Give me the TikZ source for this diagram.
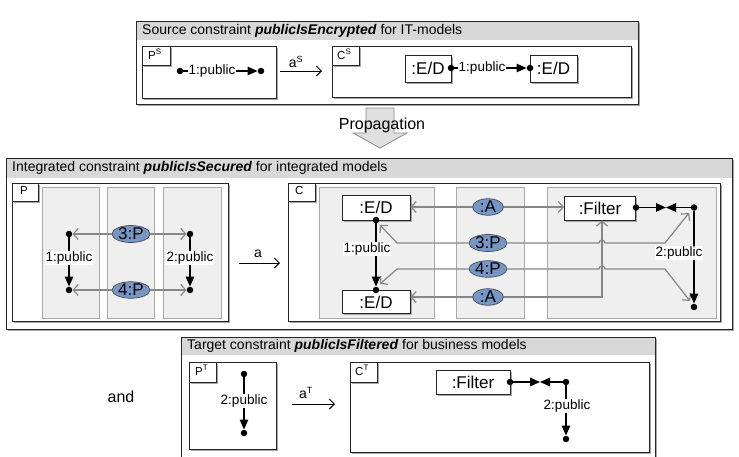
\documentclass[tikz,border=0pt]{standalone}
\usepackage{fontspec}
\setmainfont{Liberation Sans}
\usetikzlibrary{arrows.meta,shapes.geometric,shadows}

\definecolor{hdr}{RGB}{216,216,216}
\definecolor{lanef}{RGB}{239,239,239}
\definecolor{laned}{RGB}{168,168,168}
\definecolor{mapc}{RGB}{135,135,135}
\definecolor{objc}{RGB}{118,150,198}

\newcommand{\fs}[1]{\fontsize{#1}{#1}\selectfont}

\tikzset{
  shad/.style={drop shadow={shadow xshift=1.5pt,shadow yshift=-1.5pt,fill=black!35,opacity=1}},
  frame/.style={draw=black!85,line width=0.8pt,fill=white,shad},
  hdrbar/.style={fill=hdr},
  lanebox/.style={draw=laned,fill=lanef,line width=0.9pt},
  tagbox/.style={draw=black!85,fill=white,line width=0.7pt,shad},
  tagtext/.style={anchor=north west,inner sep=0pt,font=\fs{11.5}},
  dot/.style={circle,fill=black,minimum size=6.5pt,inner sep=0pt},
  objbox/.style={draw=black!85,fill=white,line width=0.8pt,inner sep=0pt,font=\fs{17},shad},
  objell/.style={ellipse,draw=black!70,fill=objc,line width=0.7pt,inner sep=0pt,minimum height=16pt,font=\fs{17}},
  hdrtext/.style={anchor=west,inner sep=0pt,font=\fs{14}},
  elabel/.style={fill=white,inner sep=0.8pt,font=\fs{13.5}},
  blackedge/.style={draw=black,line width=1.3pt,-{Triangle[length=10pt,width=8.5pt]}},
  mapedge/.style={draw=mapc,line width=1.2pt,-{Straight Barb[length=5pt,width=11pt]}},
  morph/.style={draw=black,line width=1pt,-{Straight Barb[length=5pt,width=10pt]}},
  mlabel/.style={inner sep=0pt,font=\fs{14}}
}

\begin{document}
\begin{tikzpicture}[x=1pt,y=-1pt]
\useasboundingbox (0,0) rectangle (739,456);

% ================= Source constraint =================
\path[frame] (136,21) rectangle (638,104);
\path[hdrbar] (136.4,21.4) rectangle (637.6,40);
\draw[black!85,line width=0.8pt] (136,21) rectangle (638,104);
\node[hdrtext] (srchdr) at (142,31) {Source constraint \textbf{\textit{publicIsEncrypted}} for IT-models};

% P^S
\path[frame] (142,46) rectangle (276,98);
\path[tagbox] (142,46) rectangle (170,65);
\node[tagtext] (tagPs) at (148,49) {P\textsuperscript{\fs{8}S}};
\node[dot] (ps1) at (180,71) {};
\node[dot] (ps2) at (261,71) {};
\draw[blackedge] (ps1) -- (ps2);
\node[elabel] (lps) at (212,71) {1:public};

% morphism a^S
\coordinate (aS1) at (280,71);
\coordinate (aS2) at (322,71);
\draw[morph] (aS1) -- (aS2);
\node[mlabel] (laS) at (296,62) {a\textsuperscript{\fs{9}S}};

% C^S
\path[frame] (332,46) rectangle (631,97);
\path[tagbox] (332,46) rectangle (359,65);
\node[tagtext] (tagCs) at (337,49) {C\textsuperscript{\fs{8}S}};
\node[objbox,minimum width=46pt,minimum height=27pt] (eds1) at (428,68.5) {:E/D};
\node[objbox,minimum width=47pt,minimum height=27pt] (eds2) at (553.5,68.5) {:E/D};
\node[dot] (cs1) at (451,68) {};
\node[dot] (cs2) at (530,68) {};
\draw[blackedge] (cs1) -- (cs2);
\node[elabel] (lcs) at (482,68) {1:public};

% ================= Propagation =================
\draw[fill=black!12,draw=black!45,line width=0.8pt]
  (366,108) -- (394,108) -- (394,133) -- (407,133) -- (380,148) -- (353,133) -- (366,133) -- cycle;
\node[inner sep=0pt,font=\fs{16}] (prop) at (382,125) {Propagation};

% ================= Integrated constraint =================
\path[frame] (6,158) rectangle (732,329);
\path[hdrbar] (6.4,158.4) rectangle (731.6,178);
\draw[black!85,line width=0.8pt] (6,158) rectangle (732,329);
\node[hdrtext] (inthdr) at (12,168) {Integrated constraint \textbf{\textit{publicIsSecured}} for integrated models};

% P
\path[frame] (12,183) rectangle (228,321);
\path[lanebox] (42,187) rectangle (99,318);
\path[lanebox] (107,187) rectangle (154,318);
\path[lanebox] (163,187) rectangle (221,318);
\path[tagbox] (12,183) rectangle (38,201);
\node[tagtext] (tagP) at (20,186) {P};

\node[dot] (p1) at (69,234) {};
\node[dot] (p2) at (69,290) {};
\node[dot] (p3) at (190,234) {};
\node[dot] (p4) at (190,290) {};
\node[objell,minimum width=38pt] (pP3) at (131,234) {3:P};
\node[objell,minimum width=38pt] (pP4) at (131,290) {4:P};
\draw[mapedge] (pP3.west) -- (p1);
\draw[mapedge] (pP3.east) -- (p3);
\draw[mapedge] (pP4.west) -- (p2);
\draw[mapedge] (pP4.east) -- (p4);
\draw[blackedge] (p1) -- (p2);
\draw[blackedge] (p3) -- (p4);
\node[elabel] (lp1) at (69,258) {1:public};
\node[elabel] (lp2) at (190,258) {2:public};

% morphism a
\coordinate (a1) at (239,263);
\coordinate (a2) at (280,263);
\draw[morph] (a1) -- (a2);
\node[mlabel] (la) at (258,254) {a};

% C
\path[frame] (288,183) rectangle (720,321);
\path[lanebox] (319,187) rectangle (434,318);
\path[lanebox] (456,187) rectangle (524,318);
\path[lanebox] (547,187) rectangle (716,318);
\path[tagbox] (288,183) rectangle (315,201);
\node[tagtext] (tagC) at (295,186) {C};

\node[objbox,minimum width=68pt,minimum height=25pt] (edt) at (376,207.5) {:E/D};
\node[objbox,minimum width=68pt,minimum height=23pt] (edb) at (376,302) {:E/D};
\node[objbox,minimum width=71pt,minimum height=24pt] (filt) at (600,208) {:Filter};

\node[dot] (ed1) at (376,220) {};
\node[dot] (ed2) at (376,290) {};
\node[dot] (fd) at (636,207.5) {};
\node[dot] (rt) at (694,207.5) {};
\node[dot] (rb) at (694,307) {};
\coordinate (cmid) at (666,207.5);

\node[objell,minimum width=31pt] (cA1) at (488,207) {:A};
\node[objell,minimum width=38pt] (cP3) at (488,243) {3:P};
\node[objell,minimum width=38pt] (cP4) at (488,269) {4:P};
\node[objell,minimum width=31pt] (cA2) at (488,297) {:A};

% mapping arrows
\draw[mapedge] (cA1.west) -- (cA1.west -| edt.east);
\draw[mapedge] (cA1.east) -- (cA1.east -| filt.west);
\coordinate (j3a) at (397,243);
\coordinate (j3b) at (380,225);
\draw[mapedge] (cP3.west) -- (j3a) -- (j3b);
\coordinate (j4a) at (397,269);
\coordinate (j4b) at (380,284);
\draw[mapedge] (cP4.west) -- (j4a) -- (j4b);
\draw[mapedge] (cA2.west) -- (cA2.west -| edb.east);
\coordinate (v1) at (602,297);
\draw[mapedge] (cA2.east) -- (v1) -- (v1 |- filt.south);
\coordinate (k3a) at (599,243);
\coordinate (k3b) at (665,243);
\coordinate (k3c) at (689,213);
\draw[mapedge] (cP3.east) -- (k3a) arc (180:360:3) -- (k3b) -- (k3c);
\coordinate (k4a) at (599,269);
\coordinate (k4b) at (665,269);
\coordinate (k4c) at (690,301);
\draw[mapedge] (cP4.east) -- (k4a) arc (180:360:3) -- (k4b) -- (k4c);

% black edges
\draw[blackedge] (ed1) -- (ed2);
\draw[blackedge] (fd) -- (cmid);
\draw[blackedge] (rt) -- (cmid);
\draw[blackedge] (rt) -- (rb);
\node[elabel] (lc1) at (367,249) {1:public};
\node[elabel] (lc2) at (679,253) {2:public};

% ================= Target constraint =================
\node[inner sep=0pt,font=\fs{16}] (andtxt) at (121,397) {and};

\path[frame] (181,337) rectangle (655,470);
\path[hdrbar] (181.4,337.4) rectangle (654.6,355);
\draw[black!85,line width=0.8pt] (181,337) rectangle (655,470);
\node[hdrtext] (tgthdr) at (187,346) {Target constraint \textbf{\textit{publicIsFiltered}} for business models};

% P^T
\path[frame] (189,362) rectangle (276,449);
\path[tagbox] (189,362) rectangle (216,382);
\node[tagtext] (tagPt) at (195,365) {P\textsuperscript{\fs{8}T}};
\node[dot] (pt1) at (244,374) {};
\node[dot] (pt2) at (244,433) {};
\draw[blackedge] (pt1) -- (pt2);
\node[elabel] (lpt) at (244,401) {2:public};

% morphism a^T
\coordinate (aT1) at (292,404);
\coordinate (aT2) at (335,404);
\draw[morph] (aT1) -- (aT2);
\node[mlabel] (laT) at (306,393) {a\textsuperscript{\fs{9}T}};

% C^T
\path[frame] (350,362) rectangle (649,452);
\path[tagbox] (350,362) rectangle (377,382);
\node[tagtext] (tagCt) at (355,365) {C\textsuperscript{\fs{8}T}};
\node[objbox,minimum width=74pt,minimum height=24pt] (filtT) at (473,382) {:Filter};
\node[dot] (tfd) at (510,382) {};
\node[dot] (ttop) at (566,382) {};
\node[dot] (tbot) at (566,439) {};
\coordinate (tmid) at (540,382);
\draw[blackedge] (tfd) -- (tmid);
\draw[blackedge] (ttop) -- (tmid);
\draw[blackedge] (ttop) -- (tbot);
\node[elabel] (lct) at (567,406) {2:public};

\end{tikzpicture}
\end{document}
